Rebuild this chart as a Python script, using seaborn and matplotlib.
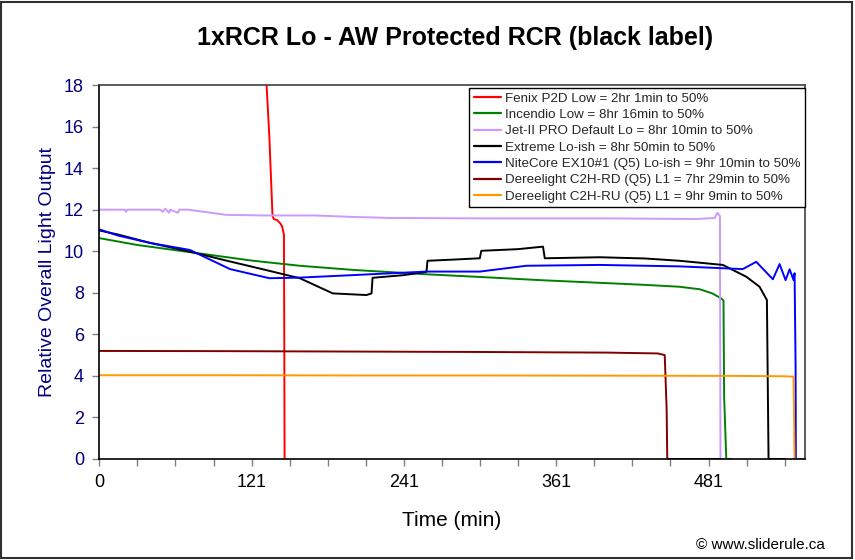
import matplotlib
matplotlib.use("Agg")
import matplotlib.pyplot as plt
import seaborn as sns
import pandas as pd
from matplotlib.patches import Rectangle

# ---------------- data ----------------
series_names = [
    "Fenix P2D Low = 2hr 1min to 50%",
    "Incendio Low = 8hr 16min to 50%",
    "Jet-II PRO Default Lo = 8hr 10min to 50%",
    "Extreme Lo-ish = 8hr 50min to 50%",
    "NiteCore EX10#1 (Q5) Lo-ish = 9hr 10min to 50%",
    "Dereelight C2H-RD (Q5) L1 = 7hr 29min to 50%",
    "Dereelight C2H-RU (Q5) L1 = 9hr 9min to 50%",
]
series_colors = ["#FF0000", "#008000", "#CC99FF", "#000000", "#0000FF", "#800000", "#FF9900"]

fenix_t = [130.5, 132, 134, 136.5, 137.5, 140, 142.5, 144, 145.5, 145.8, 146]
fenix_v = [19.5, 17.8, 15.5, 11.7, 11.55, 11.5, 11.35, 11.2, 10.8, 5.0, 0.0]

incendio_t = [0, 30, 60, 90, 120, 158, 200, 258, 300, 350, 394, 430, 457, 473, 483, 490, 491.8, 492.3, 494, 498]
incendio_v = [10.63, 10.3, 10.05, 9.8, 9.55, 9.3, 9.1, 8.89, 8.76, 8.6, 8.48, 8.38, 8.29, 8.17, 7.97, 7.73, 7.62, 3.0, 0.0, 0.0]

jet_t = [0, 20, 21, 22, 48, 50, 52, 55, 56, 62, 63, 70, 100, 130, 170, 200, 230, 300, 400, 470, 485, 487, 489, 489.4, 495]
jet_v = [12.0, 12.0, 11.9, 12.0, 12.0, 11.9, 12.05, 11.85, 12.0, 11.85, 12.0, 12.0, 11.75, 11.72, 11.72, 11.65, 11.6, 11.58, 11.58, 11.55, 11.6, 11.85, 11.7, 0.0, 0.0]

extreme_t = [0, 15, 40, 71.4, 100, 128.9, 158, 184, 210.5, 214.5, 215.3, 240, 257.8, 258.6, 280, 299.8, 301, 330, 349.6, 351, 394.3, 430, 457.2, 491.3, 509.8, 520.2, 526, 527.3, 540]
extreme_v = [11.0, 10.8, 10.4, 9.98, 9.55, 9.13, 8.7, 7.97, 7.89, 7.97, 8.72, 8.85, 9.01, 9.54, 9.6, 9.66, 10.02, 10.1, 10.22, 9.66, 9.71, 9.65, 9.54, 9.34, 8.77, 8.29, 7.65, 0.0, 0.0]

nitecore_t = [0, 15, 40, 71.4, 103, 134, 158, 200, 257.8, 299.8, 336.5, 394.3, 457.2, 507, 517.6, 530.7, 536, 540.7, 543.9, 547, 547.8, 548.6, 548.8, 549.6]
nitecore_v = [11.05, 10.75, 10.4, 10.06, 9.14, 8.7, 8.73, 8.85, 9.02, 9.02, 9.3, 9.34, 9.27, 9.14, 9.49, 8.65, 9.38, 8.61, 9.13, 8.61, 8.94, 4.45, 0.0, 0.0]

c2hrd_t = [0, 100, 200, 300, 400, 420, 440, 445.5, 447, 447.5, 448, 489]
c2hrd_v = [5.2, 5.19, 5.17, 5.15, 5.12, 5.1, 5.08, 5.0, 2.4, 0.0, 0.0, 0.0]

c2hru_t = [0, 100, 200, 300, 400, 500, 540, 547, 547.8, 556]
c2hru_v = [4.03, 4.03, 4.02, 4.02, 4.01, 4.0, 3.98, 3.96, 0.0, 0.0]

x_tick_pos = [0, 120, 240, 360, 480]
x_tick_labels = ["0", "121", "241", "361", "481"]
y_ticks = [0, 2, 4, 6, 8, 10, 12, 14, 16, 18]

# ---------------- build long table ----------------
all_t = [fenix_t, incendio_t, jet_t, extreme_t, nitecore_t, c2hrd_t, c2hru_t]
all_v = [fenix_v, incendio_v, jet_v, extreme_v, nitecore_v, c2hrd_v, c2hru_v]
rows = []
for name, ts, vs in zip(series_names, all_t, all_v):
    for t, v in zip(ts, vs):
        rows.append({"Time": t, "Output": v, "Series": name})
df = pd.DataFrame(rows)

sns.set_theme(style="white")
plt.rcParams["font.family"] = ["Liberation Sans", "DejaVu Sans"]

fig = plt.figure(figsize=(8.55, 5.6), dpi=100)
fig.patch.set_facecolor("white")
ax = fig.add_axes([0.1161, 0.1804, 0.8254, 0.6678])

sns.lineplot(data=df, x="Time", y="Output", hue="Series", hue_order=series_names,
             palette=dict(zip(series_names, series_colors)), sort=False,
             estimator=None, units="Series", linewidth=1.4, ax=ax)

ax.set_xlim(0, 556)
ax.set_ylim(0, 18)
ax.set_yticks(y_ticks)
ax.set_yticklabels([str(v) for v in y_ticks], color="#000080", fontsize=13)
minor = list(range(0, 556, 30))
ax.set_xticks(minor)
lab = []
for m in minor:
    if m in x_tick_pos:
        lab.append(x_tick_labels[x_tick_pos.index(m)])
    else:
        lab.append("")
ax.set_xticklabels(lab, fontsize=13, color="black")
ax.tick_params(axis="both", which="major", direction="out", length=5, width=1,
               color="#808080", bottom=True, left=True, pad=6)
for s in ax.spines.values():
    s.set_visible(True)
    s.set_color("#404040")
    s.set_linewidth(1.2)
ax.spines["left"].set_color("#000000")
ax.spines["bottom"].set_color("#000000")
ax.grid(False)

ax.set_xlabel("Time (min)", fontsize=15, color="black", labelpad=14)
ax.set_ylabel("Relative Overall Light Output", fontsize=14, color="#000080", labelpad=6)
fig.text(0.532, 0.933, "1xRCR Lo - AW Protected RCR (black label)", ha="center", va="center",
         fontsize=18, fontweight="bold", color="black")
fig.text(0.965, 0.027, "© www.sliderule.ca", ha="right", va="center", fontsize=11, color="black")

leg = ax.legend(loc="upper right", bbox_to_anchor=(1.0, 0.993), fontsize=9.6,
                frameon=True, fancybox=False, edgecolor="black", framealpha=1,
                handlelength=2.0, handletextpad=0.3, borderpad=0.35, labelspacing=0.3,
                borderaxespad=0.0)
leg.get_frame().set_linewidth(1.0)
for line in leg.get_lines():
    line.set_linewidth(1.6)

fig.patches.append(Rectangle((0.001, 0.004), 0.996, 0.993, transform=fig.transFigure,
                             fill=False, edgecolor="#303030", linewidth=1.5))

fig.savefig("out.png", dpi=100, facecolor="white")
